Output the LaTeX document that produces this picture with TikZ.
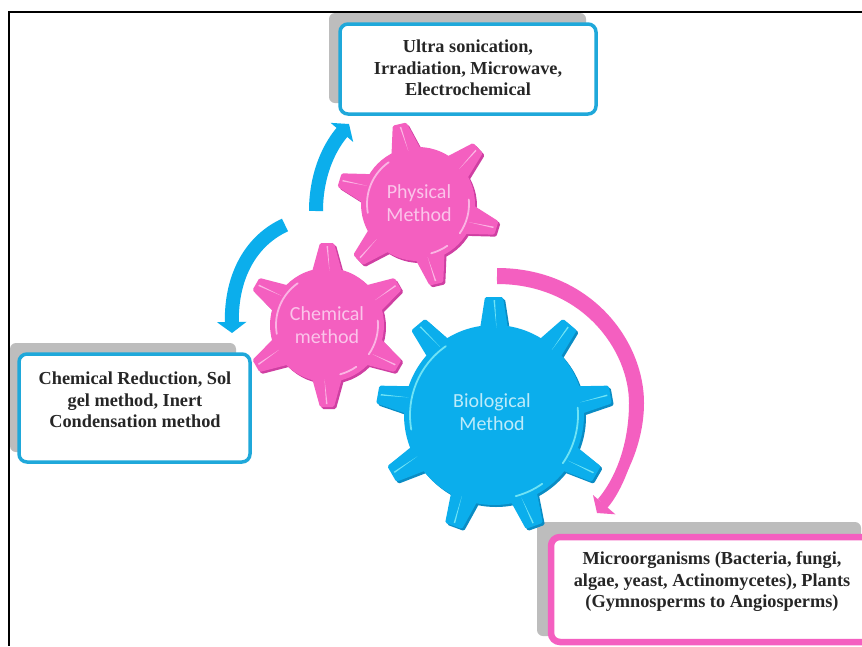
\documentclass[tikz,border=0pt]{standalone}
\usepackage{fontspec}
\setmainfont{Liberation Serif}
\newfontfamily\gearfont{Carlito}
\usetikzlibrary{arrows.meta}
\definecolor{pinkA}{HTML}{F45FC0}
\definecolor{pinkD}{HTML}{CF3FA2}
\definecolor{pinkL}{HTML}{FBB4E4}
\definecolor{blueA}{HTML}{0BAEEC}
\definecolor{blueD}{HTML}{0A8CC4}
\definecolor{blueL}{HTML}{6FE3F5}
\definecolor{shadowgrey}{HTML}{BDBDBD}
\definecolor{boxblue}{HTML}{1FA8DA}
\definecolor{gearpink}{HTML}{FBC4EA}
\definecolor{gearblue}{HTML}{BDEBFA}
\definecolor{txt}{HTML}{262626}
\tikzset{
  frameline/.style={line width=2pt,black},
  backbox/.style={fill=shadowgrey,rounded corners=6pt},
  infobox/.style={draw,fill=white,line width=3.5pt,rounded corners=8pt,inner sep=0pt},
  infotext/.style={text=txt,align=center,font=\fontsize{18.3}{21.5}\selectfont\bfseries,inner sep=0pt},
  flowblue/.style={draw=blueA,line width=14pt,-{Triangle[length=11pt,width=29pt]}},
  flowpink/.style={draw=pinkA,line width=9pt,-{Triangle[length=11pt,width=29pt]}},
  geartext/.style={align=center,font=\gearfont\fontsize{20}{23}\selectfont,inner sep=0pt}
}
% cx cy body rot n main
\newcommand{\drawgear}[6]{%
  \begin{scope}[shift={(#1,#2)}]
    \foreach \col/\ofs in {\gearD/2,#6/0}{
      \begin{scope}[shift={(\ofs,\ofs)}]
      \fill[\col] (0,0) circle[radius=#3];
      \foreach \k in {1,...,#5}{
        \begin{scope}[rotate={#4+360/#5*(\k-1)}]
          \fill[\col,rounded corners=1.5pt] (#3-4,\gearB) -- (\gearO,\gearT) -- (\gearO,-\gearT) -- (#3-4,-\gearB) -- cycle;
        \end{scope}
      }
      \end{scope}
    }
    \foreach \k in {1,...,#5}{
      \begin{scope}[rotate={#4+360/#5*(\k-1)}]
        \fill[\gearL] (#3-3,2.5) -- (\gearO-3,1) -- (\gearO-3,-0.5) -- cycle;
      \end{scope}
    }
    \draw[\gearL,line width=1.8pt,line cap=round] (170:\gearR) arc[start angle=170,end angle=235,radius=\gearR];
    \draw[\gearL,line width=1.8pt,line cap=round] (-5:\gearR) arc[start angle=-5,end angle=35,radius=\gearR];
    \draw[\gearL,line width=1.8pt,line cap=round] (55:\gearR) arc[start angle=55,end angle=75,radius=\gearR];
  \end{scope}%
}
\begin{document}
\begin{tikzpicture}[x=1pt,y=-1pt]
\useasboundingbox (0,0) rectangle (862,646);
\fill[white] (0,0) rectangle (862,646);
\coordinate (ftl) at (9,12);
\coordinate (ftr) at (862,12);
\coordinate (fbl) at (9,646);
\draw[frameline] (ftr) -- (ftl) -- (fbl);

% boxes
\fill[backbox] (329,13) rectangle (586,103);
\fill[backbox] (10,343) rectangle (236,452);
\fill[backbox] (537,522) rectangle (861,636);
\node[infobox,draw=boxblue,minimum width=256pt,minimum height=90pt] (topbox) at (468,69) {};
\node[infotext] (toptext) at (468,68) {Ultra sonication,\\Irradiation, Microwave,\\Electrochemical};
\node[infobox,draw=boxblue,minimum width=231pt,minimum height=108pt] (leftbox) at (134.5,408) {};
\node[infotext] (lefttext) at (135,400) {Chemical Reduction, Sol\\gel method, Inert\\Condensation method};
\fill[white,draw=pinkA,line width=6.5pt,rounded corners=9pt] (551,537) rectangle (880,642);
\node[infotext] (righttext) at (712,582) {Microorganisms (Bacteria, fungi,\\algae, yeast, Actinomycetes), Plants\\(Gymnosperms to Angiosperms)};

% gears
\def\gearD{pinkD}\def\gearL{pinkL}\def\gearB{15}\def\gearT{7}\def\gearR{51}\def\gearO{82}
\drawgear{418}{204}{57}{103}{6}{pinkA}
\drawgear{327}{325}{57}{90}{6}{pinkA}
\def\gearD{blueD}\def\gearL{blueL}\def\gearB{14}\def\gearT{9}\def\gearR{84}\def\gearO{118}
\drawgear{494}{415}{90}{90}{9}{blueA}

\node[geartext,text=gearpink] (physical) at (419,203) {Physical\\Method};
\node[geartext,text=gearpink] (chemical) at (327,325) {Chemical\\method};
\node[geartext,text=gearblue] (biological) at (492,412) {Biological\\Method};

% arrows
\coordinate (bu1) at (316,211);
\coordinate (bu2) at (349,124);
\coordinate (bl1) at (285,225);
\coordinate (bl2) at (232,333);
\coordinate (p1) at (497,276);
\coordinate (p2) at (636,403);
\coordinate (p4) at (597,513);
\draw[flowblue] (bu1) .. controls (316,178) and (327,150) .. (bu2);
\draw[flowblue] (bl1) .. controls (252,240) and (231,275) .. (bl2);
% tapered body of the pink arrow
\fill[pinkA] (497,268) .. controls (590,268) and (644,340) .. (644,403)
  .. controls (644,440) and (628,480) .. (604,505) -- (598,499)
  .. controls (618,475) and (629,440) .. (629,403)
  .. controls (629,350) and (582,284) .. (497,284) -- cycle;
\draw[flowpink] (p1) .. controls (585,276) and (636,345) .. (p2) .. controls (636,440) and (622,484) .. (p4);
\end{tikzpicture}
\end{document}
